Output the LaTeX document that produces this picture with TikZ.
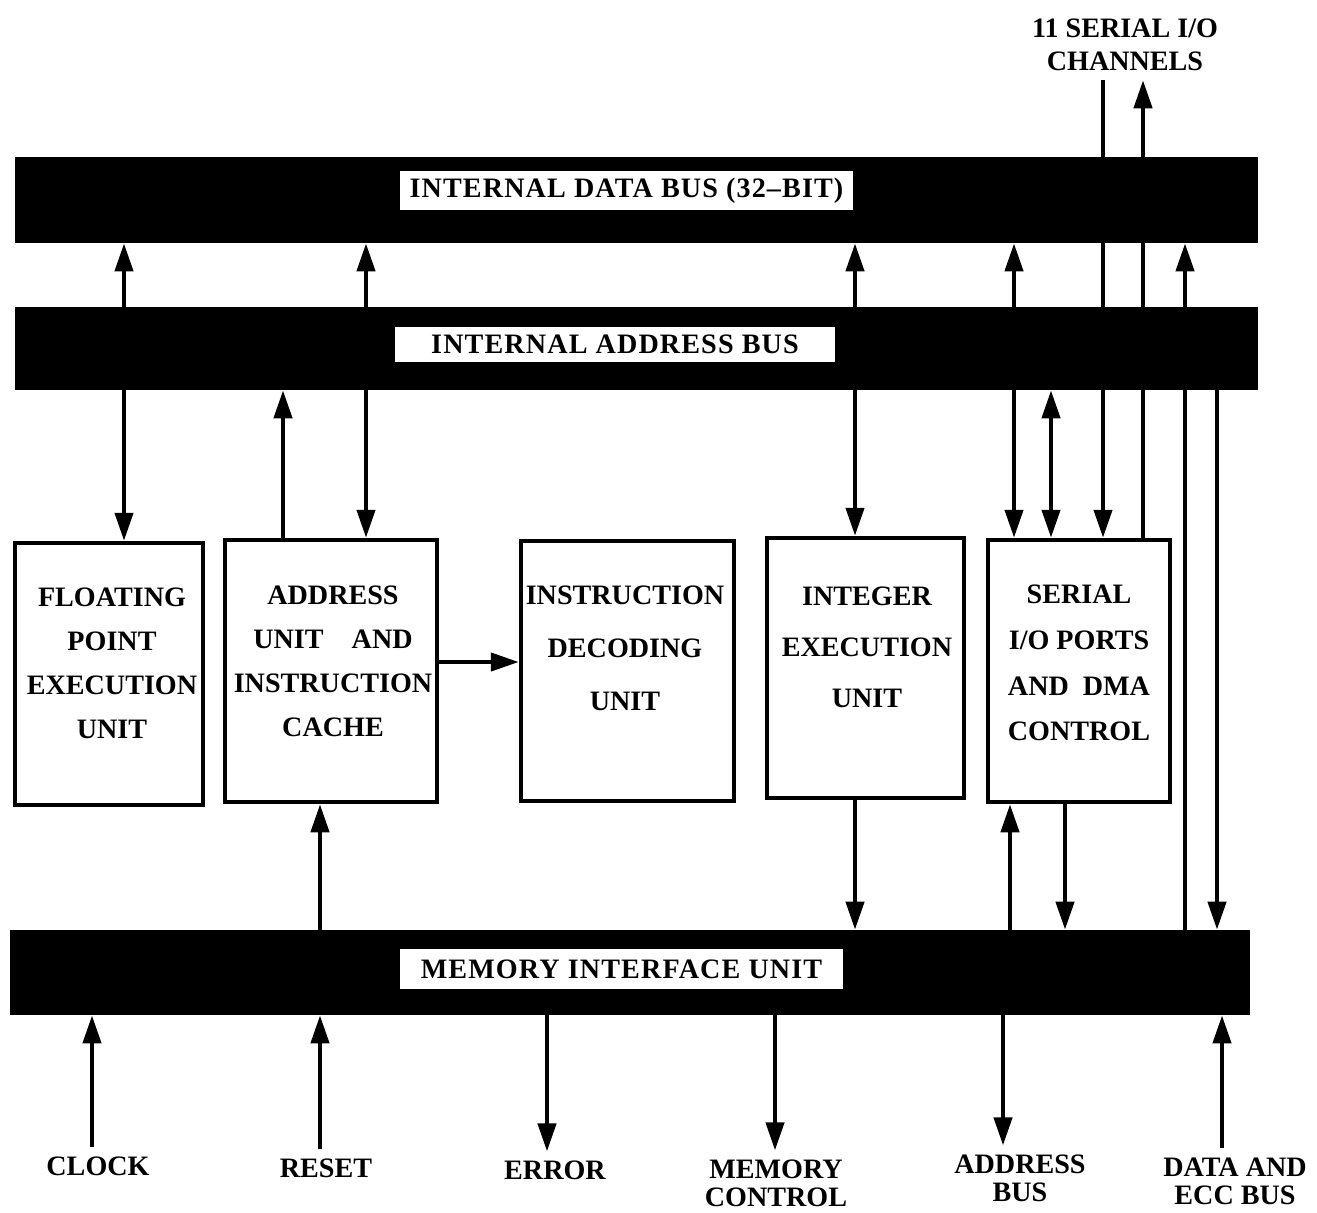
\documentclass[tikz,border=0pt]{standalone}
\usepackage{fontspec}
\setmainfont{Liberation Serif}
\newfontfamily\busfont{Liberation Serif}[LetterSpace=4]
\usepackage{tikz}
\usetikzlibrary{arrows.meta}
\tikzset{%
	bus/.style={
		rectangle,
		fill=black,
		inner sep=0pt
	},
	bus label/.style={
		rectangle,
		fill=white,
		inner sep=0pt,
		font=\busfont\fontsize{16}{18}\selectfont\bfseries
	},
	unit/.style={
		rectangle,
		draw,
		line width=0.9mm,
		inner sep=0pt
	},
	unit text/.style={
		align=center,
		inner sep=0pt,
		font=\fontsize{16}{#1}\selectfont\bfseries
	},
	unit text/.default=25,
	pin label/.style={
		align=center,
		inner sep=5pt,
		font=\fontsize{16}{#1}\selectfont\bfseries
	},
	pin label/.default=16,
	wire/.style={line width=0.85mm}
}

\begin{document}
\begin{tikzpicture}[
				x=0.2mm, y=-0.2mm,
				>={Triangle[length=5.6mm,width=3.6mm]}
				]
				\useasboundingbox (0,0) rectangle (1317,1212);

				% buses
				\node[bus, minimum width=248.6mm, minimum height=17.2mm] (dbus) at (636.5,200) {};
				\node[bus label, minimum width=90.6mm, minimum height=7.8mm] (dbus-lbl) at (626.5,190.5) {INTERNAL DATA BUS (32\textendash BIT)};
				\node[bus, minimum width=248.6mm, minimum height=16.6mm] (abus) at (636.5,348.5) {};
				\node[bus label, minimum width=88mm, minimum height=7mm] (abus-lbl) at (615,344) {INTERNAL ADDRESS BUS};
				\node[bus, minimum width=248mm, minimum height=17mm] (miu) at (630,972.5) {};
				\node[bus label, minimum width=88.6mm, minimum height=8mm] (miu-lbl) at (621.5,969) {MEMORY INTERFACE UNIT};

				% units
				\node[unit, minimum width=37.6mm, minimum height=52.4mm] (fpu) at (109,674) {};
				\node[unit text] (fpu-txt) at (112,663.5) {FLOATING\\POINT\\EXECUTION\\UNIT};
				\node[unit, minimum width=42.4mm, minimum height=52.4mm] (auc) at (331,671) {};
				\node[unit text] (auc-txt) at (333,661) {ADDRESS\\UNIT\quad AND\\INSTRUCTION\\CACHE};
				\node[unit, minimum width=42.6mm, minimum height=52mm] (idu) at (627.5,671) {};
				\node[unit text=30] (idu-txt) at (625,648.5) {INSTRUCTION\\DECODING\\UNIT};
				\node[unit, minimum width=39.4mm, minimum height=52mm] (ieu) at (865.5,668) {};
				\node[unit text=29] (ieu-txt) at (867,647) {INTEGER\\EXECUTION\\UNIT};
				\node[unit, minimum width=36.4mm, minimum height=52.4mm] (sio) at (1079,671) {};
				\node[unit text=26] (sio-txt) at (1079,663) {SERIAL\\I/O PORTS\\AND\ \ DMA\\CONTROL};

				% pins
				\node[pin label=19] (chan) at (1125,45) {11 SERIAL I/O\\CHANNELS};
				\node[pin label] (clock) at (98,1166) {CLOCK};
				\node[pin label] (reset) at (326,1168) {RESET};
				\node[pin label] (error) at (555,1170) {ERROR};
				\node[pin label] (memctl) at (776,1183) {MEMORY\\CONTROL};
				\node[pin label] (addrbus) at (1020,1178) {ADDRESS\\BUS};
				\node[pin label] (dataecc) at (1235,1181) {DATA AND\\ECC BUS};

				% units to buses
				\draw[wire,<->] (124,0 |- fpu.north) -- (124,0 |- dbus.south);
				\draw[wire,<->] (366,0 |- auc.north) -- (366,0 |- dbus.south);
				\draw[wire,->] (283,0 |- auc.north) -- (283,0 |- abus.south);
				\draw[wire,->] (auc.east |- 0,662) -- (idu.west |- 0,662);
				\draw[wire,->] (320,0 |- miu.north) -- (320,0 |- auc.south);
				\draw[wire,<->] (855,0 |- ieu.north) -- (855,0 |- dbus.south);
				\draw[wire,->] (855,0 |- ieu.south) -- (855,0 |- miu.north);
				\draw[wire,<->] (1014,0 |- sio.north) -- (1014,0 |- dbus.south);
				\draw[wire,<->] (1051,0 |- sio.north) -- (1051,0 |- abus.south);
				\draw[wire,->] (1103,0 |- chan.south) -- (1103,0 |- sio.north);
				\draw[wire,->] (1143,0 |- sio.north) -- (1143,0 |- chan.south);
				\draw[wire,->] (1010,0 |- miu.north) -- (1010,0 |- sio.south);
				\draw[wire,->] (1065,0 |- sio.south) -- (1065,0 |- miu.north);
				\draw[wire,->] (1185,0 |- miu.north) -- (1185,0 |- dbus.south);
				\draw[wire,->] (1217,0 |- abus.south) -- (1217,0 |- miu.north);

				% external pins
				\draw[wire,->] (92,0 |- clock.north) -- (92,0 |- miu.south);
				\draw[wire,->] (320,0 |- reset.north) -- (320,0 |- miu.south);
				\draw[wire,->] (547,0 |- miu.south) -- (547,0 |- error.north);
				\draw[wire,->] (775,0 |- miu.south) -- (775,0 |- memctl.north);
				\draw[wire,->] (1003,0 |- miu.south) -- (1003,0 |- addrbus.north);
				\draw[wire,->] (1222,0 |- dataecc.north) -- (1222,0 |- miu.south);

			\end{tikzpicture}
\end{document}
